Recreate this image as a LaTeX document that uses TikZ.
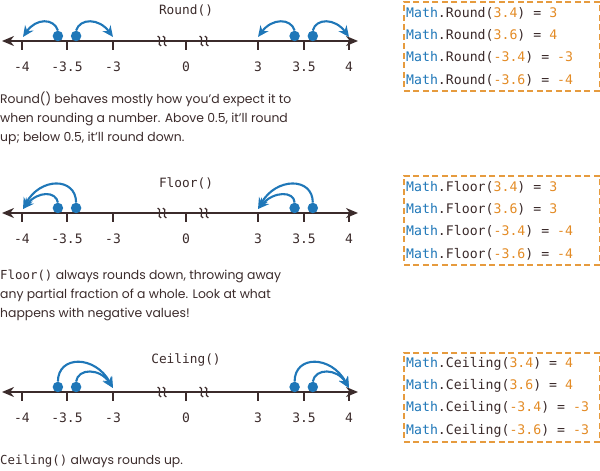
\documentclass[tikz,border=0pt]{standalone}
\usepackage{fontspec}
\setmainfont{Poppins}
\newfontfamily\codefont{DejaVu Sans Mono}
\usetikzlibrary{arrows.meta}
\definecolor{ink}{HTML}{3B2B2B}
\definecolor{cblue}{HTML}{1F77B8}
\definecolor{corange}{HTML}{E38B25}
\definecolor{cdash}{HTML}{E69B3E}
\tikzset{
  numaxis/.style={draw=ink, line width=2.3pt, {Stealth[length=12pt,width=10pt]}-{Stealth[length=12pt,width=10pt]}},
  tickline/.style={draw=ink, line width=1.9pt},
  ticklabel/.style={text=ink, font=\codefont\fontsize{13}{15}\selectfont, inner sep=0pt},
  breakmark/.style={draw=ink, line width=1.2pt},
  dot/.style={circle, fill=cblue, minimum size=10.5pt, inner sep=0pt},
  jump/.style={draw=cblue, line width=2.1pt, -{Stealth[length=11pt,width=10pt]}},
  title/.style={text=ink, font=\codefont\fontsize{12.8}{15}\selectfont, inner sep=0pt},
  para/.style={text=ink, font=\fontsize{12.4}{19}\selectfont, align=left, anchor=north west, inner sep=0pt},
  codebox/.style={draw=cdash, dashed, dash pattern=on 6pt off 3.5pt, line width=1.7pt, minimum width=196pt, minimum height=89pt, anchor=north west, inner sep=0pt},
  codeline/.style={font=\codefont\fontsize{13.2}{16}\selectfont, text=ink, anchor=base west, inner sep=0pt},
}
\newcommand\mynumline[2]{%
  \coordinate (#1L) at (2,#2);
  \coordinate (#1R) at (358,#2);
  \draw[numaxis] (#1L) -- (#1R);
  \foreach \nm/\xx/\lab in {m4/22/-4, m35/67/-3.5, m3/113/-3, z/186/0, p3/258/3, p35/304/3.5, p4/349/4} {
    \coordinate (#1\nm) at (\xx,#2);
    \draw[tickline] (#1\nm) -- ++(0,9);
    \node[ticklabel] (#1\nm lab) at (\xx,#2+26) {\lab};
  }
  \foreach \bx in {162,204} {
    \foreach \dx in {-2.6,2.6} {
      \draw[breakmark] (\bx+\dx-1.8,#2-5) .. controls (\bx+\dx+3,#2-5) and (\bx+\dx-3,#2+5) .. (\bx+\dx+1.8,#2+5);
    }
  }
  \node[dot] (#1a) at (57.9,#2-5) {};
  \node[dot] (#1b) at (76.1,#2-5) {};
  \node[dot] (#1c) at (294.6,#2-5) {};
  \node[dot] (#1d) at (312.8,#2-5) {};
  \coordinate (#1tm4) at (23,#2-4);
  \coordinate (#1tm3) at (113,#2-4);
  \coordinate (#1tp3) at (258,#2-4);
  \coordinate (#1tp4) at (349,#2-4);
}
\newcommand\mycode[4]{{\color{cblue}Math}.#1(\textcolor{corange}{#2}) = \textcolor{corange}{#3}}
\begin{document}
\begin{tikzpicture}[x=1pt,y=-1pt]
\useasboundingbox (0,0) rectangle (600,471);
% ---------------- Round ----------------
\node[title] (rtitle) at (186,10) {Round()};
\mynumline{r}{41}
\draw[jump] (ra.north) .. controls (54,18) and (36,18) .. (rtm4);
\draw[jump] (rb.north) .. controls (80,18) and (99,18) .. (rtm3);
\draw[jump] (rc.north) .. controls (291,18) and (272,18) .. (rtp3);
\draw[jump] (rd.north) .. controls (316,18) and (335,18) .. (rtp4);
\node[para] (rtext) at (0,92) {Round() behaves mostly how you’d expect it to\\when rounding a number. Above 0.5, it’ll round\\up; below 0.5, it’ll round down.};
\node[codebox] (rbox) at (403,1) {};
\node[codeline] (r1) at (406,17.5) {\mycode{Round}{3.4}{3}{}};
\node[codeline] (r2) at (406,39.7) {\mycode{Round}{3.6}{4}{}};
\node[codeline] (r3) at (406,61.9) {\mycode{Round}{-3.4}{-3}{}};
\node[codeline] (r4) at (406,84.1) {\mycode{Round}{-3.6}{-4}{}};
% ---------------- Floor ----------------
\node[title] (ftitle) at (186,183) {Floor()};
\mynumline{f}{213}
\draw[jump] (fb.north) .. controls (76,177) and (40,177) .. (ftm4);
\draw[jump] (fa.north) .. controls (56,191) and (38,191) .. (ftm4);
\draw[jump] (fd.north) .. controls (312.8,177) and (276,177) .. (ftp3);
\draw[jump] (fc.north) .. controls (294,191) and (274,191) .. (ftp3);
\node[para] (ftext) at (0,270) {{\codefont Floor()} always rounds down, throwing away\\any partial fraction of a whole. Look at what\\happens with negative values!};
\node[codebox] (fbox) at (403,175) {};
\node[codeline] (f1) at (406,191.5) {\mycode{Floor}{3.4}{3}{}};
\node[codeline] (f2) at (406,213.7) {\mycode{Floor}{3.6}{3}{}};
\node[codeline] (f3) at (406,235.9) {\mycode{Floor}{-3.4}{-4}{}};
\node[codeline] (f4) at (406,258.1) {\mycode{Floor}{-3.6}{-4}{}};
% ---------------- Ceiling ----------------
\node[title] (ctitle) at (186,360) {Ceiling()};
\mynumline{c}{392}
\draw[jump] (ca.north) .. controls (58,355) and (95,355) .. (ctm3);
\draw[jump] (cb.north) .. controls (78,368) and (100,368) .. (ctm3);
\draw[jump] (cc.north) .. controls (294.6,355) and (331,355) .. (ctp4);
\draw[jump] (cd.north) .. controls (315,368) and (337,368) .. (ctp4);
\node[para] (ctext) at (0,455) {{\codefont Ceiling()} always rounds up.};
\node[codebox] (cbox) at (403,352) {};
\node[codeline] (c1) at (406,367.5) {\mycode{Ceiling}{3.4}{4}{}};
\node[codeline] (c2) at (406,389.7) {\mycode{Ceiling}{3.6}{4}{}};
\node[codeline] (c3) at (406,411.9) {\mycode{Ceiling}{-3.4}{-3}{}};
\node[codeline] (c4) at (406,434.1) {\mycode{Ceiling}{-3.6}{-3}{}};
\end{tikzpicture}
\end{document}
